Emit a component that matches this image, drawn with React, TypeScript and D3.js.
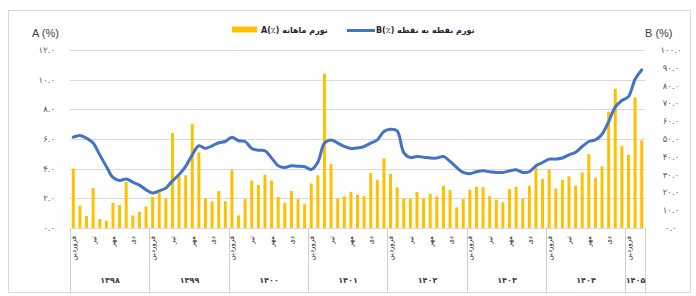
import React from 'react';
import * as d3 from 'd3';

// Persian years and how many months each one shows on the axis
const years = ['۱۳۹۸', '۱۳۹۹', '۱۴۰۰', '۱۴۰۱', '۱۴۰۲', '۱۴۰۳', '۱۴۰۴', '۱۴۰۵'];
const monthsPerYear = [12, 12, 12, 12, 12, 12, 12, 3];
const monthNames = ['فروردین', 'اردیبهشت', 'خرداد', 'تیر', 'مرداد', 'شهریور', 'مهر', 'آبان', 'آذر', 'دی', 'بهمن', 'اسفند'];
const labeledMonths = [0, 3, 6, 9];

// A: monthly inflation (%), left axis
const monthlyA = [
  4.0, 1.5, 0.8, 2.7, 0.6, 0.5, 1.7, 1.55, 3.1, 0.85, 1.1, 1.45,
  2.1, 2.4, 2.0, 6.4, 3.5, 3.55, 7.0, 5.1, 2.0, 1.8, 2.5, 1.8,
  3.9, 0.85, 1.95, 3.2, 2.9, 3.6, 3.2, 2.1, 1.7, 2.5, 1.95, 1.6,
  3.0, 3.55, 10.4, 4.3, 1.97, 2.13, 2.44, 2.24, 2.15, 3.7, 3.25, 4.7,
  3.65, 2.74, 1.97, 1.95, 2.42, 1.97, 2.31, 2.13, 2.85, 2.56, 1.39, 1.95,
  2.58, 2.78, 2.76, 2.15, 1.91, 1.73, 2.62, 2.78, 1.97, 2.85, 4.1, 3.3,
  3.92, 2.65, 3.25, 3.48, 2.85, 3.74, 4.98, 3.36, 4.15, 7.85, 9.39, 5.54,
  4.93, 8.81, 5.9,
];

// B: point-to-point inflation (%), right axis
const pointB = [
  51.0, 52.0, 50.5, 47.7, 41.1, 34.6, 28.4, 26.7, 27.5, 25.8, 24.1, 21.5,
  19.6, 20.9, 22.4, 26.5, 30.0, 34.6, 41.1, 46.2, 44.7, 46.2, 47.9, 48.6,
  51.0, 49.0, 48.6, 44.7, 43.7, 43.4, 39.3, 35.0, 34.0, 35.0, 34.7, 34.4,
  32.9, 37.0, 47.7, 49.5, 47.7, 45.8, 44.7, 44.9, 45.8, 47.7, 49.5, 54.2,
  55.5, 54.6, 42.4, 39.6, 40.2, 39.8, 39.3, 39.3, 40.2, 37.4, 34.0, 31.2,
  30.5, 31.6, 32.1, 31.6, 31.2, 31.2, 32.1, 32.7, 31.2, 31.6, 35.0, 36.8,
  38.7, 38.7, 39.3, 41.1, 42.6, 45.8, 48.6, 49.5, 52.7, 59.8, 67.9, 71.6,
  73.8, 83.6, 88.8,
];

const leftTicks = [0, 2, 4, 6, 8, 10, 12];
const rightTicks = [0, 10, 20, 30, 40, 50, 60, 70, 80, 90, 100];

const faDigits = '۰۱۲۳۴۵۶۷۸۹';
const toFa = (s: string) => s.replace(/\d/g, d => faDigits[+d]);

const W = 696;
const H = 296;
const plot = { left: 70, right: 645, top: 50, bottom: 228 };
const faFont = '"DejaVu Sans", sans-serif';
const gridColor = '#d9d9d9';
const sepColor = '#d0d0d0';

export default function App() {
  const n = monthlyA.length;
  const x = d3.scaleBand<number>()
    .domain(d3.range(n))
    .range([plot.left, plot.right])
    .paddingInner(0.55)
    .paddingOuter(0.275);
  const cx = (i: number) => (x(i) ?? 0) + x.bandwidth() / 2;
  const yA = d3.scaleLinear().domain([0, 12]).range([plot.bottom, plot.top]);
  const yB = d3.scaleLinear().domain([0, 100]).range([plot.bottom, plot.top]);

  const line = d3.line<number>()
    .x((_, i) => cx(i))
    .y(d => yB(d))
    .curve(d3.curveCatmullRom.alpha(0.5));

  // year groups: start index of each (cumsum gives a typed array, so turn it into a plain one)
  const starts: number[] = Array.from(d3.cumsum([0, ...monthsPerYear]));
  const step = x.step();
  const boundaryX = (idx: number) => Math.round(plot.left + idx * step) + 0.5;

  const fmt = d3.format('.1f');

  return (
    <div style={{ position: 'absolute', left: 0, top: 0 }}>
      <svg width={W} height={H} style={{ display: 'block', background: '#fff' }}>
        <rect x={8.5} y={10.5} width={682} height={282} fill="#fff" stroke={gridColor} />

        {/* gridlines */}
        {leftTicks.map(t => (
          <line key={t} x1={plot.left} x2={plot.right} y1={Math.round(yA(t)) + 0.5} y2={Math.round(yA(t)) + 0.5} stroke={gridColor} strokeWidth={1} />
        ))}

        {/* left axis labels */}
        {leftTicks.map(t => (
          <text key={t} x={55} y={yA(t)} dy="0.35em" textAnchor="end" fontSize={8.5} fill="#595959" fontFamily={faFont}>
            {toFa(fmt(t))}
          </text>
        ))}
        {/* right axis labels */}
        {rightTicks.map(t => (
          <text key={t} x={671} y={yB(t)} dy="0.35em" textAnchor="middle" fontSize={8.5} fill="#595959" fontFamily={faFont}>
            {toFa(fmt(t))}
          </text>
        ))}

        <text x={32} y={37} fontSize={11} fill="#404040" fontFamily='"Liberation Sans", Arial, sans-serif'>A (%)</text>
        <text x={645} y={37} fontSize={11} fill="#404040" fontFamily='"Liberation Sans", Arial, sans-serif'>B (%)</text>

        {/* bars */}
        {monthlyA.map((v, i) => (
          <rect key={i} x={x(i)} y={yA(v)} width={x.bandwidth()} height={yA(0) - yA(v)} fill="#FFC000" />
        ))}

        {/* line */}
        <path d={line(pointB) ?? ''} fill="none" stroke="#4472C4" strokeWidth={3} strokeLinejoin="round" strokeLinecap="round" />

        {/* category axis */}
        <line x1={plot.left} x2={plot.right} y1={plot.bottom + 0.5} y2={plot.bottom + 0.5} stroke={gridColor} />
        {starts.map((s, k) => (
          <line key={k} x1={boundaryX(s)} x2={boundaryX(s)} y1={plot.bottom} y2={292.5} stroke={sepColor} strokeWidth={1} />
        ))}

        {/* month labels */}
        {d3.range(n).map(i => {
          const yi = d3.bisectRight(starts, i) - 1;
          const m = i - starts[yi];
          if (!labeledMonths.includes(m)) return null;
          return (
            <text key={i} transform={`translate(${cx(i) + 2.5},236) rotate(-90)`} textAnchor="end"
              fontSize={7} fill="#262626" fontFamily={faFont}>
              {monthNames[m]}
            </text>
          );
        })}

        {/* year labels */}
        {years.map((yr, k) => (
          <text key={yr} x={(boundaryX(starts[k]) + boundaryX(starts[k + 1])) / 2} y={283}
            textAnchor="middle" fontSize={8} fontWeight="bold" fill="#404040" fontFamily={faFont}>
            {yr}
          </text>
        ))}

        {/* legend */}
        <rect x={232} y={26.5} width={25} height={6} fill="#FFC000" />
        <text x={261} y={33} fontSize={8} fontWeight="bold" fill="#262626" fontFamily={faFont}>
          {'A(٪) تورم ماهانه'}
        </text>
        <line x1={347} x2={375} y1={30.5} y2={30.5} stroke="#4472C4" strokeWidth={3} />
        <text x={376} y={33} fontSize={8} fontWeight="bold" fill="#262626" fontFamily={faFont}>
          {'B(٪) تورم نقطه به نقطه'}
        </text>
      </svg>
    </div>
  );
}
